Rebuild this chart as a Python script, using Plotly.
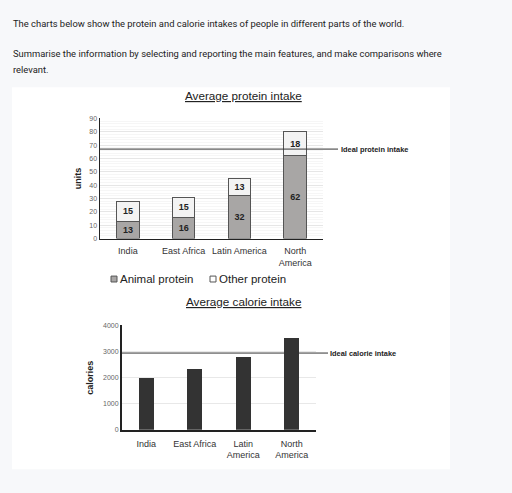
import plotly.graph_objects as go

W, H = 512, 493

regions = ["India", "East Africa", "Latin America", "North America"]
protein_tick_labels = ["India", "East Africa", "Latin America", "North<br>America"]
animal_protein = [13, 16, 32, 62]
other_protein = [15, 15, 13, 18]
ideal_protein = 67

calorie_tick_labels = ["India", "East Africa", "Latin<br>America", "North<br>America"]
calories = [2000, 2340, 2800, 3500]
ideal_calories = 2940


def px(x):
    return x / W


def py(y):
    return 1 - y / H


fig = go.Figure()

bar_text_font = dict(family="Liberation Sans", size=9, color="#222222", weight="bold")
fig.add_trace(go.Bar(
    x=regions, y=animal_protein, name="Animal protein",
    marker=dict(color="#a8a6a5", line=dict(color="#555555", width=1)),
    text=animal_protein, textposition="inside", insidetextanchor="middle",
    textfont=bar_text_font, constraintext="none",
    width=0.4, xaxis="x", yaxis="y", showlegend=False,
))
fig.add_trace(go.Bar(
    x=regions, y=other_protein, name="Other protein",
    marker=dict(color="#f3f3f3", line=dict(color="#555555", width=1)),
    text=other_protein, textposition="inside", insidetextanchor="middle",
    textfont=bar_text_font, constraintext="none",
    width=0.4, xaxis="x", yaxis="y", showlegend=False,
))
fig.add_trace(go.Bar(
    x=regions, y=calories, name="Calories",
    marker=dict(color="#333333", line=dict(width=0)),
    width=0.31, xaxis="x2", yaxis="y2", showlegend=False,
))

axis_font = dict(family="Liberation Sans", size=9, color="#333333")
tick_font_small = dict(family="Liberation Sans", size=7, color="#666666")

fig.update_layout(
    width=W, height=H,
    margin=dict(l=0, r=0, t=0, b=0),
    paper_bgcolor="#f7f8fa",
    plot_bgcolor="rgba(0,0,0,0)",
    barmode="stack",
    hovermode=False,
    xaxis=dict(
        domain=[px(100), px(323)], anchor="y",
        tickmode="array", tickvals=regions, ticktext=protein_tick_labels,
        tickfont=axis_font, showline=True, linecolor="#222222", linewidth=1.5,
        ticks="", showgrid=False, fixedrange=True, ticklabelstandoff=3,
    ),
    yaxis=dict(
        domain=[py(238), py(116)], anchor="x", range=[0, 90],
        dtick=10, tickfont=tick_font_small,
        showline=True, linecolor="#222222", linewidth=1.5,
        showgrid=True, gridcolor="#e6e6e6", gridwidth=1,
        minor=dict(dtick=2, showgrid=True, gridcolor="#f6f6f6"),
        zeroline=False, fixedrange=True,
        title=dict(text="<b>units</b>", font=dict(family="Liberation Sans", size=9, color="#222222"), standoff=6),
    ),
    xaxis2=dict(
        domain=[px(122), px(316)], anchor="y2",
        tickmode="array", tickvals=regions, ticktext=calorie_tick_labels,
        tickfont=axis_font, showline=True, linecolor="#222222", linewidth=2,
        ticks="", showgrid=False, fixedrange=True, ticklabelstandoff=4,
    ),
    yaxis2=dict(
        domain=[py(432), py(326)], anchor="x2", range=[0, 4000],
        dtick=1000, tickfont=tick_font_small,
        showline=True, linecolor="#222222", linewidth=2,
        showgrid=True, gridcolor="#e8e8e8", gridwidth=1,
        zeroline=False, fixedrange=True,
        title=dict(text="<b>calories</b>", font=dict(family="Liberation Sans", size=9, color="#222222"), standoff=8),
    ),
)

shapes = [
    dict(type="rect", xref="paper", yref="paper", x0=px(12), x1=px(450), y0=py(472), y1=py(84.5),
         fillcolor="white", line=dict(width=0), layer="below"),
    dict(type="line", xref="paper", yref="y", x0=px(100), x1=px(338), y0=ideal_protein, y1=ideal_protein,
         line=dict(color="#333333", width=1)),
    dict(type="line", xref="paper", yref="y2", x0=px(122), x1=px(328), y0=ideal_calories, y1=ideal_calories,
         line=dict(color="#333333", width=1)),
    dict(type="rect", xref="paper", yref="paper", x0=px(111), x1=px(117), y0=py(282), y1=py(276),
         fillcolor="#a8a6a5", line=dict(color="#555555", width=1)),
    dict(type="rect", xref="paper", yref="paper", x0=px(210), x1=px(216), y0=py(282), y1=py(276),
         fillcolor="#ffffff", line=dict(color="#555555", width=1)),
]
fig.update_layout(shapes=shapes)

ann = []
top_font = dict(family="Roboto", size=9.4, color="#222222")
for txt, yy in [
    ("The charts below show the protein and calorie intakes of people in different parts of the world.", 20),
    ("Summarise the information by selecting and reporting the main features, and make comparisons where", 50),
    ("relevant.", 66),
]:
    ann.append(dict(text=txt, x=px(11), y=py(yy), xref="paper", yref="paper", xanchor="left",
                    yanchor="middle", showarrow=False, font=top_font))
title_font = dict(family="Liberation Sans", size=11.7, color="#222222")
ann.append(dict(text="<u>Average protein intake</u>", x=px(243), y=py(93), xref="paper", yref="paper",
                xanchor="center", yanchor="middle", showarrow=False, font=title_font))
ann.append(dict(text="<u>Average calorie intake</u>", x=px(243), y=py(302), xref="paper", yref="paper",
                xanchor="center", yanchor="middle", showarrow=False, font=title_font))
label_font = dict(family="Liberation Sans", size=7.4, color="#222222")
ann.append(dict(text="<b>Ideal protein intake</b>", x=px(339), y=ideal_protein, xref="paper", yref="y",
                xanchor="left", yanchor="middle", showarrow=False, font=label_font))
ann.append(dict(text="<b>Ideal calorie intake</b>", x=px(328), y=ideal_calories, xref="paper", yref="y2",
                xanchor="left", yanchor="middle", showarrow=False, font=label_font))
legend_font = dict(family="Liberation Sans", size=11.5, color="#222222")
ann.append(dict(text="Animal protein", x=px(118), y=py(279), xref="paper", yref="paper",
                xanchor="left", yanchor="middle", showarrow=False, font=legend_font))
ann.append(dict(text="Other protein", x=px(217), y=py(279), xref="paper", yref="paper",
                xanchor="left", yanchor="middle", showarrow=False, font=legend_font))
fig.update_layout(annotations=ann)

fig.write_html(
    "out.html",
    config={"displayModeBar": False, "staticPlot": True},
    post_script="document.body.style.margin='0';document.body.style.padding='0';",
)
